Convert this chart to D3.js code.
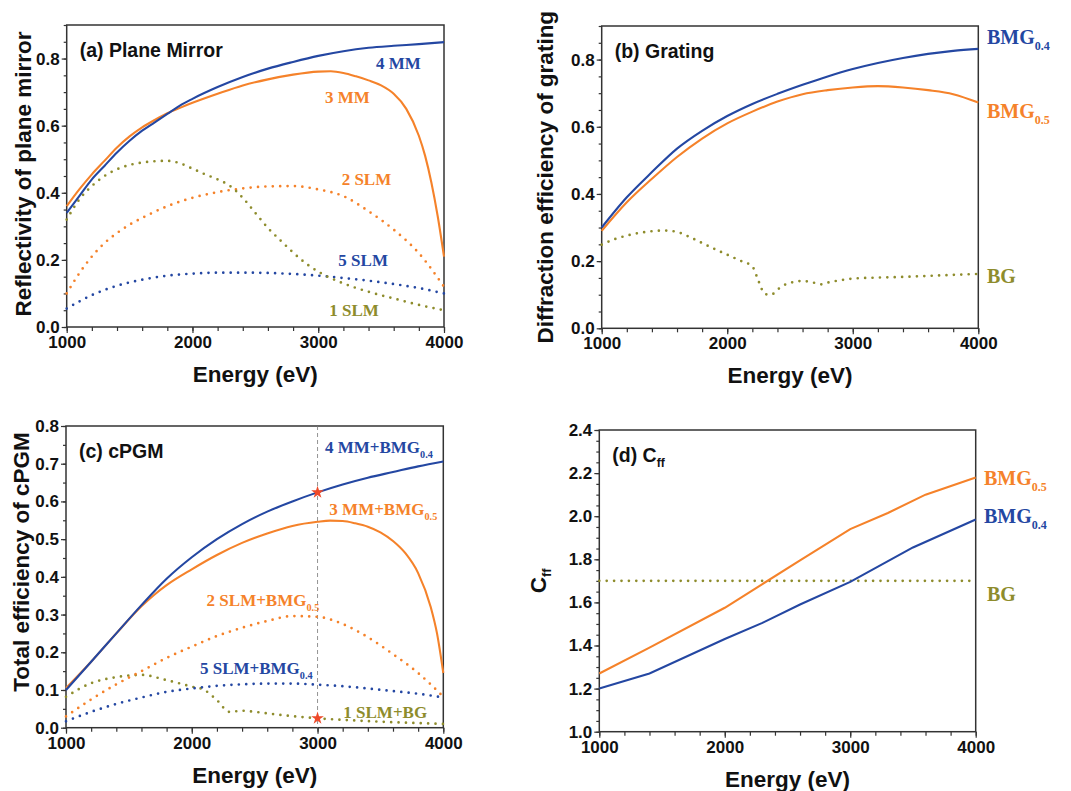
<!DOCTYPE html>
<html>
<head>
<meta charset="utf-8">
<script src="https://cdn.jsdelivr.net/npm/d3@7"></script>
<style>
  body { margin: 0; background: #fff; }
  text { font-family: "Liberation Sans", Arial, sans-serif; }
  .lbl { font-family: "Liberation Serif", "Times New Roman", serif; font-weight: bold; }
</style>
</head>
<body>
<script>
const BLUE = "#2447a2", ORANGE = "#f5822a", OLIVE = "#8e8c2c", STAR = "#ee4a2a";

// ---- (a) plane mirror reflectivity
const mm4E = [1000,1100,1200,1300,1400,1500,1600,1700,1800,1900,2000,2200,2400,2600,2800,3000,3200,3400,3600,3800,4000];
const mm4 = [0.34,0.39,0.44,0.48,0.52,0.555,0.585,0.61,0.635,0.66,0.68,0.715,0.745,0.77,0.79,0.808,0.822,0.832,0.838,0.843,0.849];
const mm3E = [1000,1100,1200,1300,1400,1500,1600,1700,1800,1900,2000,2200,2400,2600,2800,3000,3100,3200,3300,3400,3500,3600,3700,3800,3850,3900,3950,4000];
const mm3 = [0.36,0.41,0.455,0.495,0.535,0.568,0.595,0.617,0.637,0.653,0.668,0.695,0.72,0.738,0.752,0.761,0.762,0.757,0.747,0.735,0.72,0.695,0.65,0.57,0.51,0.43,0.33,0.21];
const slm2E = [1000,1100,1200,1300,1400,1500,1600,1800,2000,2200,2400,2600,2800,3000,3200,3400,3600,3800,4000];
const slm2 = [0.10,0.16,0.21,0.25,0.28,0.305,0.325,0.36,0.385,0.402,0.413,0.419,0.42,0.41,0.39,0.345,0.29,0.22,0.12];
const step200 = [1000,1200,1400,1600,1800,2000,2200,2400,2600,2800,3000,3200,3400,3600,3800,4000];
const slm5 = [0.055,0.095,0.123,0.141,0.153,0.159,0.162,0.162,0.161,0.158,0.153,0.146,0.138,0.128,0.116,0.10];
const slm1E = [1000,1100,1200,1300,1400,1500,1600,1700,1800,1900,2000,2100,2200,2300,2400,2500,2600,2700,2800,2900,3000,3200,3400,3600,3800,4000];
const slm1 = [0.32,0.38,0.42,0.45,0.47,0.483,0.49,0.494,0.495,0.488,0.472,0.455,0.44,0.42,0.385,0.34,0.295,0.258,0.222,0.19,0.165,0.13,0.105,0.085,0.066,0.05];

// ---- (b) grating efficiency
const bmg4 = [0.30,0.39,0.465,0.535,0.588,0.632,0.668,0.698,0.725,0.75,0.772,0.79,0.805,0.817,0.826,0.832];
const bmg5 = [0.29,0.375,0.445,0.51,0.565,0.61,0.645,0.675,0.697,0.709,0.717,0.721,0.717,0.709,0.697,0.672];
const bgE = [1000,1100,1200,1300,1400,1500,1600,1700,1800,1900,2000,2100,2200,2250,2300,2350,2400,2450,2500,2600,2700,2750,2800,2900,3000,3200,3400,3600,3800,4000];
const bg = [0.249,0.265,0.276,0.284,0.289,0.291,0.287,0.272,0.254,0.236,0.219,0.202,0.184,0.14,0.102,0.10,0.115,0.128,0.135,0.141,0.135,0.131,0.136,0.143,0.148,0.151,0.153,0.156,0.159,0.162];

// ---- (c) total efficiency
const c4 = [0.10,0.175,0.25,0.325,0.395,0.452,0.50,0.54,0.573,0.60,0.624,0.645,0.663,0.678,0.693,0.706];
const c3E = [1000,1200,1400,1600,1700,1800,2000,2200,2400,2600,2800,3000,3100,3200,3300,3400,3500,3600,3700,3800,3900,3950,4000];
const c3 = [0.105,0.175,0.25,0.322,0.352,0.378,0.42,0.458,0.49,0.515,0.535,0.546,0.549,0.548,0.542,0.533,0.518,0.495,0.462,0.41,0.32,0.25,0.145];
const c2 = [0.03,0.075,0.115,0.15,0.185,0.215,0.243,0.265,0.283,0.296,0.294,0.275,0.24,0.195,0.145,0.082];
const c5 = [0.017,0.042,0.063,0.08,0.095,0.104,0.111,0.115,0.117,0.117,0.114,0.11,0.104,0.097,0.09,0.08];
const c1E = [1000,1200,1400,1600,1800,2000,2100,2200,2300,2400,2500,2700,3000,3500,4000];
const c1 = [0.082,0.118,0.134,0.14,0.126,0.109,0.10,0.073,0.042,0.045,0.042,0.034,0.025,0.016,0.01];
const starE = [3000, 3000];
const starV = [0.624, 0.025];

// ---- (d) Cff
const d5E = [1000,1400,2000,2300,2600,3000,3300,3600,4000];
const d5 = [1.27,1.39,1.575,1.685,1.795,1.94,2.015,2.10,2.18];
const d4E = [1000,1400,2000,2300,2600,3000,3500,4000];
const d4 = [1.20,1.27,1.43,1.505,1.59,1.695,1.855,1.985];
const dBgE = [1000,4000];
const dBg = [1.70,1.70];

const svg = d3.select("body").append("svg").attr("width", 1071).attr("height", 791);

function panel(o) {
  const x = d3.scaleLinear().domain([1000, 4000]).range([o.left, o.right]);
  const y = d3.scaleLinear().domain(o.yDomain).range([o.bottom, o.top]);
  const g = svg.append("g");

  // minor + major ticks
  g.append("g").attr("transform", `translate(0,${o.bottom})`)
    .call(d3.axisBottom(x).tickValues(d3.range(1000, 4001, 200)).tickSize(4).tickFormat(""));
  g.append("g").attr("transform", `translate(0,${o.bottom})`)
    .call(d3.axisBottom(x).tickValues([1000, 2000, 3000, 4000]).tickSize(6).tickPadding(3).tickFormat(d3.format("d")));
  const n = Math.round((o.yDomain[1] - o.yDomain[0]) / 0.05);
  g.append("g").attr("transform", `translate(${o.left},0)`)
    .call(d3.axisLeft(y).tickValues(d3.range(n + 1).map(i => o.yDomain[0] + i * 0.05)).tickSize(3).tickFormat(""));
  g.append("g").attr("transform", `translate(${o.left},0)`)
    .call(d3.axisLeft(y).tickValues(o.yTicks).tickSize(5).tickPadding(2).tickFormat(d3.format(".1f")));
  g.selectAll(".domain").remove();
  g.selectAll(".tick line").attr("stroke", "#333").attr("stroke-width", 1.2);
  g.selectAll(".tick text").attr("font-size", 17).attr("font-weight", "bold")
    .attr("fill", "#111").attr("font-family", "'Liberation Sans', Arial, sans-serif");

  g.append("rect").attr("x", o.left).attr("y", o.top)
    .attr("width", o.right - o.left).attr("height", o.bottom - o.top)
    .attr("fill", "none").attr("stroke", "#333").attr("stroke-width", 1.5);

  // axis titles
  g.append("text").attr("x", (o.left + o.right) / 2).attr("y", o.bottom + 55)
    .attr("text-anchor", "middle").attr("font-size", 22.5).attr("font-weight", "bold")
    .attr("fill", "#111").text("Energy (eV)");
  const cy = o.yTitleY !== undefined ? o.yTitleY : (o.top + o.bottom) / 2;
  const yt = g.append("text")
    .attr("transform", `translate(${o.yTitleX},${cy}) rotate(-90)`)
    .attr("text-anchor", "middle").attr("font-size", 22.5).attr("font-weight", "bold").attr("fill", "#111");
  yt.append("tspan").text(o.yTitle);
  if (o.yTitleSub) yt.append("tspan").attr("font-size", 13).attr("dy", 5).text(o.yTitleSub);

  const tt = g.append("text").attr("x", o.left + 13).attr("y", o.top + 32)
    .attr("font-size", 19.5).attr("font-weight", "bold").attr("fill", "#111");
  tt.append("tspan").text(o.title);
  if (o.titleSub) tt.append("tspan").attr("font-size", 12).attr("dy", 5).text(o.titleSub);

  return { g, x, y };
}

function series(p, es, vs, color, dotted, curve) {
  const line = d3.line().x((d, i) => p.x(es[i])).y(d => p.y(d)).curve(curve || d3.curveMonotoneX);
  const path = p.g.append("path").datum(vs).attr("d", line)
    .attr("fill", "none").attr("stroke", color);
  if (dotted) {
    path.attr("stroke-width", 2.7).attr("stroke-linecap", "round").attr("stroke-dasharray", "0 7.4");
  } else {
    path.attr("stroke-width", 2.1);
  }
}

function label(p, ex, vy, color, main, sub, size, px) {
  const t = p.g.append("text").attr("class", "lbl")
    .attr("x", px !== undefined ? px : p.x(ex)).attr("y", p.y(vy))
    .attr("font-size", size).attr("fill", color);
  t.append("tspan").text(main);
  if (sub) t.append("tspan").attr("font-size", size * 0.6).attr("dy", size * 0.3).text(sub);
}

// (a)
const pa = panel({ left: 66.7, right: 444, top: 25, bottom: 327, yDomain: [0, 0.9], yTicks: [0, 0.2, 0.4, 0.6, 0.8],
  yTitle: "Reflectivity of plane mirror", yTitleX: 31, yTitleY: 174, title: "(a) Plane Mirror" });
series(pa, step200, slm5, BLUE, true);
series(pa, slm2E, slm2, ORANGE, true);
series(pa, slm1E, slm1, OLIVE, true);
series(pa, mm3E, mm3, ORANGE, false);
series(pa, mm4E, mm4, BLUE, false);
label(pa, 3460, 0.77, BLUE, "4 MM", null, 17);
label(pa, 3054, 0.668, ORANGE, "3 MM", null, 17);
label(pa, 3186, 0.424, ORANGE, "2 SLM", null, 17);
label(pa, 3160, 0.181, BLUE, "5 SLM", null, 17);
label(pa, 3088, 0.032, OLIVE, "1 SLM", null, 17);

// (b)
const pb = panel({ left: 601.7, right: 978.3, top: 26, bottom: 328.3, yDomain: [0, 0.9], yTicks: [0, 0.2, 0.4, 0.6, 0.8],
  yTitle: "Diffraction efficiency of grating", yTitleX: 553, title: "(b) Grating" });
series(pb, bgE, bg, OLIVE, true);
series(pb, step200, bmg5, ORANGE, false);
series(pb, step200, bmg4, BLUE, false);
label(pb, 0, 0.845, BLUE, "BMG", "0.4", 20, 987);
label(pb, 0, 0.627, ORANGE, "BMG", "0.5", 20, 987);
label(pb, 0, 0.135, OLIVE, "BG", null, 20, 987);

// (c)
const pc = panel({ left: 66, right: 443.3, top: 426, bottom: 727.7, yDomain: [0, 0.8],
  yTicks: [0, 0.1, 0.2, 0.3, 0.4, 0.5, 0.6, 0.7, 0.8],
  yTitle: "Total efficiency of cPGM", yTitleX: 29, yTitleY: 562, title: "(c) cPGM" });
pc.g.append("line").attr("x1", pc.x(3000)).attr("x2", pc.x(3000))
  .attr("y1", pc.y(0.8)).attr("y2", pc.y(0))
  .attr("stroke", "#777").attr("stroke-width", 0.8).attr("stroke-dasharray", "4 3");
series(pc, c1E, c1, OLIVE, true);
series(pc, step200, c5, BLUE, true);
series(pc, step200, c2, ORANGE, true);
series(pc, c3E, c3, ORANGE, false);
series(pc, step200, c4, BLUE, false);
pc.g.selectAll(".star").data(starV).join("path").attr("class", "star")
  .attr("transform", (d, i) => `translate(${pc.x(starE[i])},${pc.y(d)})`)
  .attr("d", d3.symbol(d3.symbolStar, 50)).attr("fill", STAR);
label(pc, 3059, 0.728, BLUE, "4 MM+BMG", "0.4", 17);
label(pc, 3094, 0.564, ORANGE, "3 MM+BMG", "0.5", 17);
label(pc, 2118, 0.324, ORANGE, "2 SLM+BMG", "0.5", 17);
label(pc, 2065, 0.142, BLUE, "5 SLM+BMG", "0.4", 17);
label(pc, 3205, 0.027, OLIVE, "1 SLM+BG", null, 17);

// (d)
const pd = panel({ left: 599.3, right: 975.7, top: 430, bottom: 731.7, yDomain: [1.0, 2.4],
  yTicks: [1.0, 1.2, 1.4, 1.6, 1.8, 2.0, 2.2, 2.4],
  yTitle: "C", yTitleSub: "ff", yTitleX: 546, title: "(d) C", titleSub: "ff" });
series(pd, dBgE, dBg, OLIVE, true, d3.curveLinear);
series(pd, d5E, d5, ORANGE, false, d3.curveLinear);
series(pd, d4E, d4, BLUE, false, d3.curveLinear);
label(pd, 0, 2.144, ORANGE, "BMG", "0.5", 20, 984);
label(pd, 0, 1.969, BLUE, "BMG", "0.4", 20, 984);
label(pd, 0, 1.605, OLIVE, "BG", null, 20, 987);
</script>
</body>
</html>
